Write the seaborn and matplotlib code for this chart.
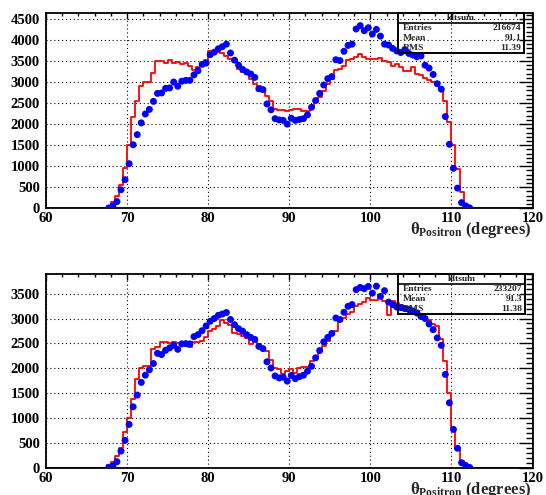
import numpy as np
import pandas as pd
import matplotlib
matplotlib.use("Agg")
import matplotlib.pyplot as plt
from matplotlib.patches import Rectangle
from matplotlib.lines import Line2D
from matplotlib.ticker import MultipleLocator
import seaborn as sns

# ---------------- data ----------------
bin_width = 0.5
x_lo, x_hi = 60.0, 120.0
first_center = 67.75  # first non-empty bin centre

top_blue = [
    10, 55, 160, 440, 680,
    1060, 1510, 1750, 2030, 2240, 2350, 2540, 2730, 2740, 2850,
    2860, 3000, 2900, 3020, 3040, 3040, 3170, 3270, 3420, 3450,
    3650, 3710, 3790, 3840, 3900, 3690, 3520, 3400, 3300, 3240,
    3190, 3110, 2840, 2820, 2480, 2340, 2130, 2100, 2090, 2000,
    2140, 2090, 2110, 2130, 2220, 2400, 2560, 2730, 2930, 3080,
    3130, 3530, 3510, 3730, 3870, 3900, 4260, 4340, 4220, 4290,
    4140, 4250, 4090, 3900, 3880, 3800, 3740, 3700, 3770, 3680,
    3640, 3600, 3620, 3400, 3330, 3180, 2960, 2830, 2180, 1520,
    950, 480, 135, 60, 10]

top_red = [
    30, 150, 285, 545, 965,
    1495, 2180, 2540, 2900, 3000, 3000, 3210, 3510, 3510, 3460,
    3530, 3460, 3470, 3420, 3460, 3370, 3275, 3355, 3430, 3530,
    3730, 3710, 3710, 3690, 3610, 3550, 3510, 3310, 3235, 3195,
    3080, 2960, 2900, 2800, 2680, 2560, 2365, 2325, 2325, 2310,
    2340, 2370, 2370, 2320, 2300, 2400, 2520, 2640, 2790, 2950,
    3080, 3275, 3310, 3390, 3520, 3550, 3600, 3670, 3590, 3550,
    3540, 3550, 3580, 3510, 3470, 3390, 3430, 3350, 3270, 3270,
    3350, 3200, 3160, 3100, 3040, 3000, 3000, 2800, 2560, 2040,
    1500, 940, 390, 70, 10]

bot_blue = [
    10, 35, 120, 335, 550,
    870, 1225, 1460, 1715, 1860, 1970, 2095, 2300, 2275, 2360,
    2410, 2460, 2380, 2490, 2495, 2490, 2635, 2675, 2755, 2850,
    2945, 3000, 3065, 3090, 3120, 2980, 2875, 2795, 2745, 2675,
    2620, 2580, 2440, 2395, 2130, 2005, 1845, 1805, 1820, 1740,
    1855, 1790, 1830, 1860, 1940, 2040, 2210, 2355, 2530, 2620,
    2700, 3010, 2980, 3125, 3245, 3280, 3580, 3625, 3600, 3645,
    3510, 3650, 3445, 3560, 3330, 3280, 3230, 3220, 3200, 3180,
    3150, 3110, 3040, 3000, 2890, 2775, 2610, 2460, 1875, 1305,
    770, 390, 100, 45, 5]

bot_red = [
    50, 120, 240, 400, 720,
    1000, 1385, 1785, 1995, 2040, 2055, 2390, 2435, 2520, 2520,
    2500, 2520, 2510, 2475, 2490, 2435, 2530, 2520, 2540, 2620,
    2740, 2795, 2855, 2975, 2910, 2875, 2710, 2690, 2645, 2610,
    2490, 2545, 2490, 2410, 2340, 2160, 2010, 1975, 1875, 1940,
    1990, 1900, 2010, 2030, 2030, 2140, 2240, 2340, 2440, 2540,
    2720, 2740, 2940, 3020, 3090, 3130, 3250, 3290, 3340, 3410,
    3380, 3380, 3410, 3360, 3080, 3350, 3310, 3280, 3210, 3200,
    3180, 3150, 3080, 3010, 2980, 2880, 2850, 2580, 2140, 1510,
    800, 400, 130, 45, 5]

stats_top = {"title": "ldtsum", "Entries": "216674", "Mean": "91.1", "RMS": "11.39"}
stats_bot = {"title": "ldtsum", "Entries": "233207", "Mean": "91.3", "RMS": "11.38"}

x_ticks = [60, 70, 80, 90, 100, 110, 120]
xlabel = r"$\mathrm{\theta}_{\mathbf{Positron}}$ (degrees)"

# ---------------- style ----------------
sns.set_theme(style="white")
plt.rcParams["font.family"] = ["Liberation Serif", "DejaVu Serif"]
plt.rcParams["font.weight"] = "bold"
plt.rcParams["mathtext.fontset"] = "custom"
plt.rcParams["mathtext.rm"] = "Liberation Serif"
plt.rcParams["mathtext.it"] = "Liberation Serif:italic"
plt.rcParams["mathtext.bf"] = "Liberation Serif:bold"

W, H = 546, 495
fig = plt.figure(figsize=(W / 100, H / 100), dpi=100)
fig.patch.set_facecolor("white")


def fx(px):
    return px / W


def fy(py):
    return 1 - py / H


n_bins = int(round((x_hi - x_lo) / bin_width))
all_centers = x_lo + bin_width * (np.arange(n_bins) + 0.5)


def full_hist(vals):
    w = np.zeros(n_bins)
    start = int(round((first_center - x_lo - bin_width / 2) / bin_width))
    w[start:start + len(vals)] = vals
    return w


def panel(rect_px, blue, red, ymax, yticks_max, stats, box_px, label_y):
    left, top, right, bottom = rect_px
    ax = fig.add_axes([fx(left), fy(bottom), fx(right) - fx(left), fy(top) - fy(bottom)])
    ax.set_facecolor("white")
    centers = first_center + bin_width * np.arange(len(blue))
    df_red = pd.DataFrame({"x": all_centers, "w": full_hist(red)})
    sns.histplot(data=df_red, x="x", weights="w", binwidth=bin_width, binrange=(x_lo, x_hi),
                 element="step", fill=False, color="#ff0000", linewidth=1.3, ax=ax)
    df_blue = pd.DataFrame({"x": centers, "y": blue})
    sns.scatterplot(data=df_blue, x="x", y="y", color="#0000ff", s=25,
                    edgecolor="none", linewidth=0, ax=ax, zorder=4)
    ax.set_xlim(x_lo, x_hi)
    ax.set_ylim(0, ymax)
    ax.set_xticks(x_ticks)
    ax.xaxis.set_minor_locator(MultipleLocator(2))
    ax.set_yticks(np.arange(0, yticks_max + 1, 500))
    ax.yaxis.set_minor_locator(MultipleLocator(100))
    ax.tick_params(axis="both", which="both", direction="in", top=True, right=True,
                   colors="black", labelsize=10.5, width=1.0)
    ax.tick_params(axis="x", which="major", length=4.5, pad=3)
    ax.tick_params(axis="x", which="minor", length=2.2)
    ax.tick_params(axis="y", which="major", length=10, pad=4.5)
    ax.tick_params(axis="y", which="minor", length=5)
    ax.grid(True, which="major", color="black", linestyle=(0, (1, 2.5)), linewidth=0.8)
    ax.set_axisbelow(True)
    for sp in ax.spines.values():
        sp.set_color("black")
        sp.set_linewidth(1.3)
        sp.set_visible(True)
    ax.set_xlabel("")
    ax.set_ylabel("")
    for lab in ax.get_xticklabels() + ax.get_yticklabels():
        lab.set_fontweight("bold")

    # stats box
    bx0, by0, bx1, by1, sep = box_px
    fig.add_artist(Rectangle((fx(bx0), fy(by1)), fx(bx1) - fx(bx0), fy(by0) - fy(by1),
                             transform=fig.transFigure, fill=False, edgecolor="black",
                             linewidth=1.4, zorder=10))
    fig.add_artist(Line2D([fx(bx0), fx(bx1)], [fy(sep), fy(sep)], transform=fig.transFigure,
                          color="black", linewidth=1.2, zorder=10))
    fs = 6.8
    fig.text(fx((bx0 + bx1) / 2), fy((by0 + sep) / 2), stats["title"], ha="center", va="center",
             fontsize=fs, fontweight="bold", zorder=11)
    rows = ["Entries", "Mean", "RMS"]
    row_h = (by1 - sep) / 3.0
    for i, r in enumerate(rows):
        yc = sep + row_h * (i + 0.5)
        fig.text(fx(bx0 + 5), fy(yc), r, ha="left", va="center", fontsize=fs,
                 fontweight="bold", zorder=11)
        fig.text(fx(bx1 - 3), fy(yc), stats[r], ha="right", va="center", fontsize=fs,
                 fontweight="bold", zorder=11)

    fig.text(fx(531), fy(label_y), xlabel, ha="right", va="center", fontsize=12,
             fontweight="bold")
    return ax


panel((46, 12.8, 532.5, 208.3), top_blue, top_red, 4645, 4500, stats_top,
      (398, 13, 524, 53, 22.5), 230.5)
panel((46, 273.5, 532.5, 467.7), bot_blue, bot_red, 3905, 3500, stats_bot,
      (398, 274, 525, 314, 283.5), 489.5)

fig.savefig("out.png", dpi=100, facecolor="white")
